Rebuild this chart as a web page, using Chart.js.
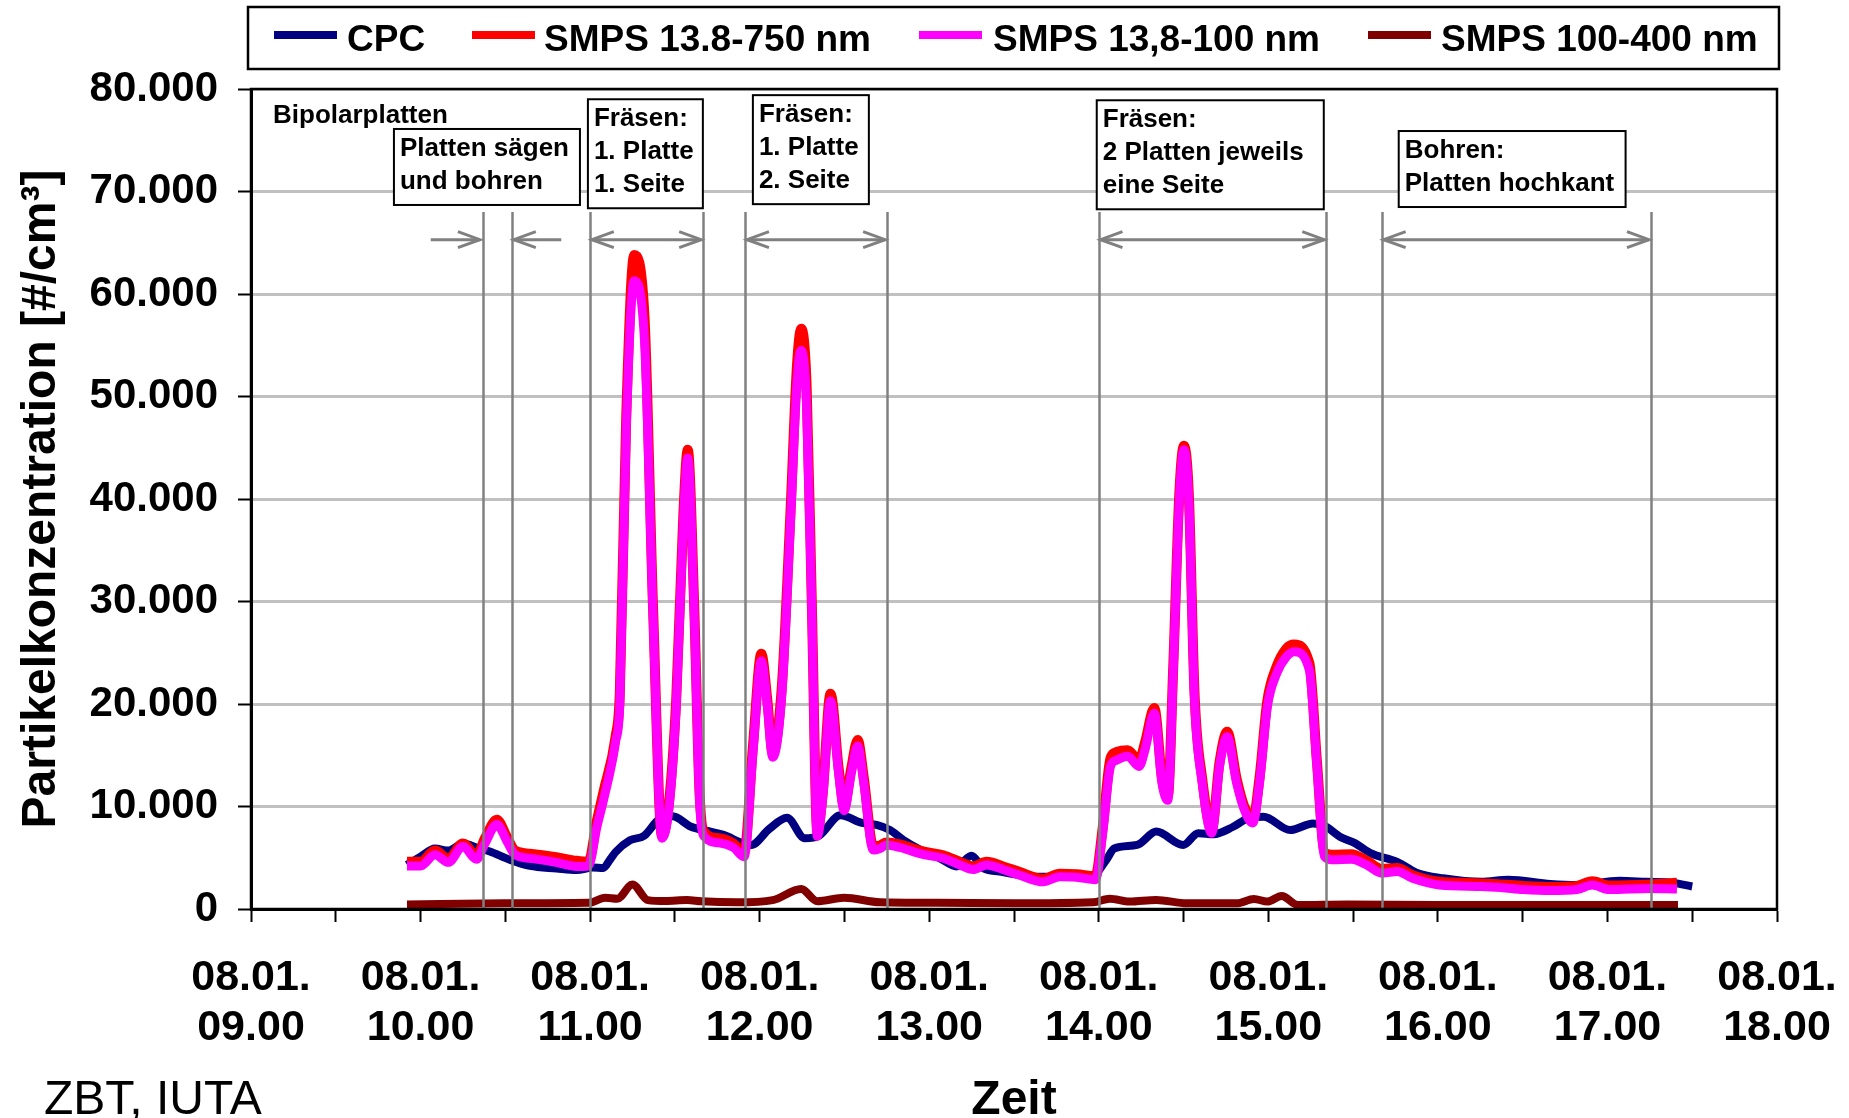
<!DOCTYPE html>
<html>
<head>
<meta charset="utf-8">
<script src="https://cdn.jsdelivr.net/npm/chart.js@4.4.1/dist/chart.umd.min.js"></script>
<style>
  html, body { margin: 0; padding: 0; background: #fff; }
  canvas { display: block; }
</style>
</head>
<body>
<canvas id="chart" width="1849" height="1118"></canvas>
<script>
// Data (time in hours of the day, 08.01.)
const cpcTime = [9.92, 10.0, 10.085, 10.164, 10.252, 10.331, 10.409, 10.527, 10.645, 10.802, 10.92, 11.018, 11.077, 11.117, 11.15, 11.235, 11.319, 11.403, 11.487, 11.592, 11.698, 11.782, 11.95, 12.056, 12.161, 12.266, 12.35, 12.477, 12.603, 12.689, 12.768, 12.846, 12.945, 13.063, 13.161, 13.249, 13.318, 13.416, 13.534, 13.652, 13.77, 13.967, 14.045, 14.091, 14.226, 14.339, 14.497, 14.587, 14.678, 14.79, 14.881, 14.971, 15.129, 15.264, 15.332, 15.422, 15.513, 15.603, 15.76, 15.873, 16.031, 16.257, 16.415, 16.663, 16.821, 17.072, 17.229, 17.386, 17.5];
const cpcValues = [4300, 5100, 5900, 5700, 6400, 6000, 5600, 4800, 4200, 3950, 3800, 4050, 4000, 4800, 5550, 6700, 7150, 8700, 9050, 8050, 7600, 7250, 6250, 7800, 8900, 6900, 7150, 9150, 8400, 8200, 7700, 6750, 5800, 4950, 4150, 5200, 4000, 3650, 3300, 3150, 3150, 3300, 4800, 5900, 6250, 7550, 6250, 7400, 7300, 8000, 8850, 9000, 7700, 8350, 8100, 7050, 6400, 5450, 4600, 3550, 3000, 2650, 2850, 2450, 2350, 2750, 2650, 2550, 2200];

const smpsTime = [9.92, 10.0, 10.085, 10.164, 10.25, 10.33, 10.38, 10.45, 10.51, 10.557, 10.645, 10.8, 10.92, 10.99, 11.04, 11.08, 11.15, 11.175, 11.213, 11.26, 11.32, 11.371, 11.424, 11.466, 11.508, 11.55, 11.576, 11.614, 11.645, 11.67, 11.76, 11.845, 11.908, 11.961, 12.01, 12.045, 12.077, 12.13, 12.182, 12.22, 12.245, 12.277, 12.308, 12.34, 12.372, 12.418, 12.466, 12.498, 12.54, 12.578, 12.614, 12.67, 12.709, 12.748, 12.827, 12.905, 12.984, 13.082, 13.181, 13.259, 13.338, 13.436, 13.534, 13.672, 13.77, 13.869, 13.98, 14.023, 14.069, 14.102, 14.17, 14.238, 14.272, 14.328, 14.373, 14.407, 14.44, 14.475, 14.502, 14.531, 14.565, 14.61, 14.666, 14.712, 14.757, 14.813, 14.858, 14.908, 14.948, 14.994, 15.05, 15.106, 15.152, 15.242, 15.287, 15.332, 15.377, 15.49, 15.58, 15.67, 15.76, 15.85, 16.009, 16.257, 16.37, 16.505, 16.663, 16.82, 16.91, 17.01, 17.25, 17.41];
const smps750 = [4600, 4600, 5700, 4900, 6400, 5200, 6900, 8700, 7000, 5700, 5400, 5050, 4700, 4600, 8600, 11500, 16800, 21000, 48000, 63800, 58000, 29500, 7100, 10500, 20500, 38500, 44800, 29500, 11500, 7600, 6900, 6400, 5500, 16000, 24900, 20400, 15200, 21500, 38800, 53000, 56600, 51000, 29500, 7500, 11300, 21000, 13700, 10000, 13700, 16500, 12800, 6100, 6200, 6500, 6300, 5900, 5550, 5250, 4600, 4150, 4600, 4150, 3600, 2950, 3450, 3400, 3200, 7900, 14700, 15300, 15500, 14500, 16200, 19600, 12700, 11000, 24000, 40500, 45200, 40500, 20900, 12700, 7700, 14300, 17300, 12700, 10000, 8700, 12800, 20300, 23700, 25400, 25800, 24000, 14300, 5500, 5300, 5350, 4700, 3900, 4000, 3300, 2650, 2500, 2400, 2250, 2150, 2250, 2700, 2300, 2400, 2550];
const smps100 = [4200, 4200, 5300, 4550, 6100, 4850, 6400, 8250, 6600, 5300, 4950, 4550, 4150, 4200, 8000, 10700, 16300, 20000, 46800, 61300, 55700, 28900, 6900, 10000, 19900, 37800, 44000, 28900, 10900, 7140, 6450, 6000, 5100, 15400, 24200, 19900, 14800, 20800, 37800, 51300, 54500, 49000, 28900, 7100, 10900, 20300, 13200, 9600, 13200, 15900, 12300, 5750, 5900, 6250, 6000, 5600, 5250, 4950, 4300, 3850, 4300, 3850, 3300, 2650, 3150, 3100, 2850, 7400, 13900, 14500, 14900, 13900, 15500, 19100, 12300, 10600, 23600, 39900, 44800, 39900, 20400, 12300, 7400, 13900, 16800, 12300, 9700, 8400, 12300, 19700, 23000, 24600, 25100, 23300, 13900, 5100, 4800, 4850, 4300, 3500, 3650, 3000, 2350, 2200, 2100, 1900, 1800, 1900, 2350, 1900, 2000, 1950];

const smps400Time = [9.92, 10.5, 10.99, 11.09, 11.16, 11.25, 11.34, 11.445, 11.571, 11.656, 11.866, 12.077, 12.245, 12.34, 12.498, 12.71, 13.045, 13.5, 13.967, 14.065, 14.181, 14.339, 14.52, 14.813, 14.915, 14.994, 15.079, 15.174, 15.467, 16.0, 17.0, 17.416];
const smps400 = [450, 550, 600, 1100, 1000, 2400, 870, 780, 870, 750, 650, 870, 1950, 760, 1100, 650, 600, 550, 650, 1000, 720, 880, 550, 550, 980, 720, 1270, 390, 450, 400, 400, 400];

const dateLabel = "08.01.";
const hourLabels = ["09.00", "10.00", "11.00", "12.00", "13.00", "14.00", "15.00", "16.00", "17.00", "18.00"];

// annotation content (x in hours, y in #/cm3)
const phaseLines = [10.368, 10.539, 11.0, 11.665, 11.913, 12.75, 14.0, 15.338, 15.669, 17.255];
const phaseArrows = [
    { from: 10.06, to: 10.35, heads: "end" },
    { from: 10.83, to: 10.55, heads: "end" },
    { from: 11.01, to: 11.655, heads: "both" },
    { from: 11.925, to: 12.74, heads: "both" },
    { from: 14.01, to: 15.33, heads: "both" },
    { from: 15.68, to: 17.245, heads: "both" },
];
const phaseBoxes = [
    { x0: 9.843, x1: 10.94, top: 76100, lines: ["Platten sägen", "und bohren"] },
    { x0: 10.987, x1: 11.665, top: 79000, lines: ["Fräsen:", "1. Platte", "1. Seite"] },
    { x0: 11.96, x1: 12.644, top: 79400, lines: ["Fräsen:", "1. Platte", "2. Seite"] },
    { x0: 13.988, x1: 15.327, top: 78900, lines: ["Fräsen:", "2 Platten jeweils", "eine Seite"] },
    { x0: 15.769, x1: 17.107, top: 75900, lines: ["Bohren:", "Platten hochkant"] },
];

const FONT = "'Liberation Sans', Arial, sans-serif";

function toPoints(times, values) {
    return times.map((t, i) => ({ x: t, y: values[i] }));
}

function fmtThousands(v) {
    return String(v).replace(/\B(?=(\d{3})+(?!\d))/g, ".");
}

// Legend, phase markers, frame and footer text
const decorPlugin = {
    id: "decor",
    afterDatasetsDraw(chart) {
        const { ctx, chartArea, scales } = chart;
        const xs = scales.x, ys = scales.y;
        ctx.save();

        // vertical phase lines
        ctx.strokeStyle = "#808080";
        ctx.lineWidth = 2.5;
        const lineTop = ys.getPixelForValue(68000);
        phaseLines.forEach(h => {
            const px = Math.round(xs.getPixelForValue(h)) + 0.5;
            ctx.beginPath();
            ctx.moveTo(px, lineTop);
            ctx.lineTo(px, chartArea.bottom);
            ctx.stroke();
        });

        // arrows
        const ay = ys.getPixelForValue(65300);
        const head = (tipX, dir) => {
            ctx.beginPath();
            ctx.moveTo(tipX - dir * 22, ay - 8);
            ctx.lineTo(tipX, ay);
            ctx.lineTo(tipX - dir * 22, ay + 8);
            ctx.stroke();
        };
        ctx.lineWidth = 3;
        phaseArrows.forEach(a => {
            const x1 = xs.getPixelForValue(a.from), x2 = xs.getPixelForValue(a.to);
            const dir = Math.sign(x2 - x1);
            ctx.beginPath();
            ctx.moveTo(x1, ay);
            ctx.lineTo(x2, ay);
            ctx.stroke();
            head(x2, dir);
            if (a.heads === "both") head(x1, -dir);
        });

        // text boxes
        ctx.font = "bold 26px " + FONT;
        ctx.textBaseline = "alphabetic";
        ctx.textAlign = "left";
        phaseBoxes.forEach(b => {
            const left = xs.getPixelForValue(b.x0), right = xs.getPixelForValue(b.x1);
            const top = ys.getPixelForValue(b.top);
            const h = 10 + b.lines.length * 33;
            ctx.fillStyle = "#fff";
            ctx.fillRect(left, top, right - left, h);
            ctx.strokeStyle = "#000";
            ctx.lineWidth = 2;
            ctx.strokeRect(left, top, right - left, h);
            ctx.fillStyle = "#000";
            b.lines.forEach((t, i) => ctx.fillText(t, left + 6, top + 27 + i * 33));
        });
        ctx.fillText("Bipolarplatten", xs.getPixelForValue(9.13), ys.getPixelForValue(76700));

        // plot frame
        ctx.strokeStyle = "#000";
        ctx.lineWidth = 2.5;
        ctx.strokeRect(chartArea.left, chartArea.top, chartArea.right - chartArea.left, chartArea.bottom - chartArea.top);

        // legend
        ctx.lineWidth = 2.5;
        ctx.strokeRect(248, 7, 1531, 62);
        const legendPos = [[274, 347], [472, 544], [919, 993], [1368, 1441]];
        ctx.font = "bold 37px " + FONT;
        chart.data.datasets.forEach((ds, i) => {
            const [lx, tx] = legendPos[i];
            ctx.fillStyle = ds.borderColor;
            ctx.fillRect(lx, 31, 63, 8);
            ctx.fillStyle = "#000";
            ctx.fillText(ds.label, tx, 51);
        });

        // source note
        ctx.font = "48px " + FONT;
        ctx.fillText("ZBT, IUTA", 44, 1114);
        ctx.restore();
    }
};

new Chart(document.getElementById("chart"), {
    type: "line",
    data: {
        datasets: [
            { label: "CPC", data: toPoints(cpcTime, cpcValues), borderColor: "#000080", borderWidth: 8, order: 4 },
            { label: "SMPS 13.8-750 nm", data: toPoints(smpsTime, smps750), borderColor: "#ff0000", borderWidth: 10, order: 3 },
            { label: "SMPS 13,8-100 nm", data: toPoints(smpsTime, smps100), borderColor: "#ff00ff", borderWidth: 9, order: 2 },
            { label: "SMPS 100-400 nm", data: toPoints(smps400Time, smps400), borderColor: "#800000", borderWidth: 8, order: 1 },
        ],
    },
    options: {
        responsive: false,
        animation: false,
        devicePixelRatio: 1,
        layout: { padding: { top: 89, right: 72, left: 0, bottom: 0 } },
        elements: {
            point: { radius: 0 },
            line: { cubicInterpolationMode: "monotone", borderJoinStyle: "round", fill: false },
        },
        plugins: { legend: { display: false }, tooltip: { enabled: false } },
        scales: {
            x: {
                type: "linear",
                min: 9,
                max: 18,
                afterFit: s => {
                    s.height = 209;
                    s.paddingLeft = 0;
                    s.paddingRight = 0;
                },
                ticks: {
                    stepSize: 0.5,
                    autoSkip: false,
                    maxRotation: 0,
                    padding: 31,
                    color: "#000",
                    font: { family: FONT, size: 43, weight: "bold", lineHeight: 1.16 },
                    callback: v => Number.isInteger(v) ? [dateLabel, hourLabels[v - 9]] : "",
                },
                grid: { drawOnChartArea: false, drawTicks: true, tickLength: 13, tickColor: "#000", tickWidth: 2 },
                border: { display: true, color: "#000", width: 3 },
                title: {
                    display: true,
                    text: "Zeit",
                    color: "#000",
                    padding: { top: 0, bottom: 0 },
                    font: { family: FONT, size: 48, weight: "bold", lineHeight: 0.7 },
                },
            },
            y: {
                min: 0,
                max: 80000,
                afterFit: s => { s.width = 251; },
                ticks: {
                    stepSize: 10000,
                    padding: 20,
                    color: "#000",
                    font: { family: FONT, size: 42, weight: "bold" },
                    callback: v => fmtThousands(v),
                },
                grid: { color: "#c0c0c0", lineWidth: 3, drawTicks: true, tickLength: 13, tickColor: "#000", tickWidth: 2 },
                border: { display: true, color: "#000", width: 3 },
                title: {
                    display: true,
                    text: "Partikelkonzentration [#/cm³]",
                    color: "#000",
                    padding: { top: 13, bottom: 0 },
                    font: { family: FONT, size: 48, weight: "bold", lineHeight: 1.2 },
                },
            },
        },
    },
    plugins: [decorPlugin],
});
</script>
</body>
</html>
